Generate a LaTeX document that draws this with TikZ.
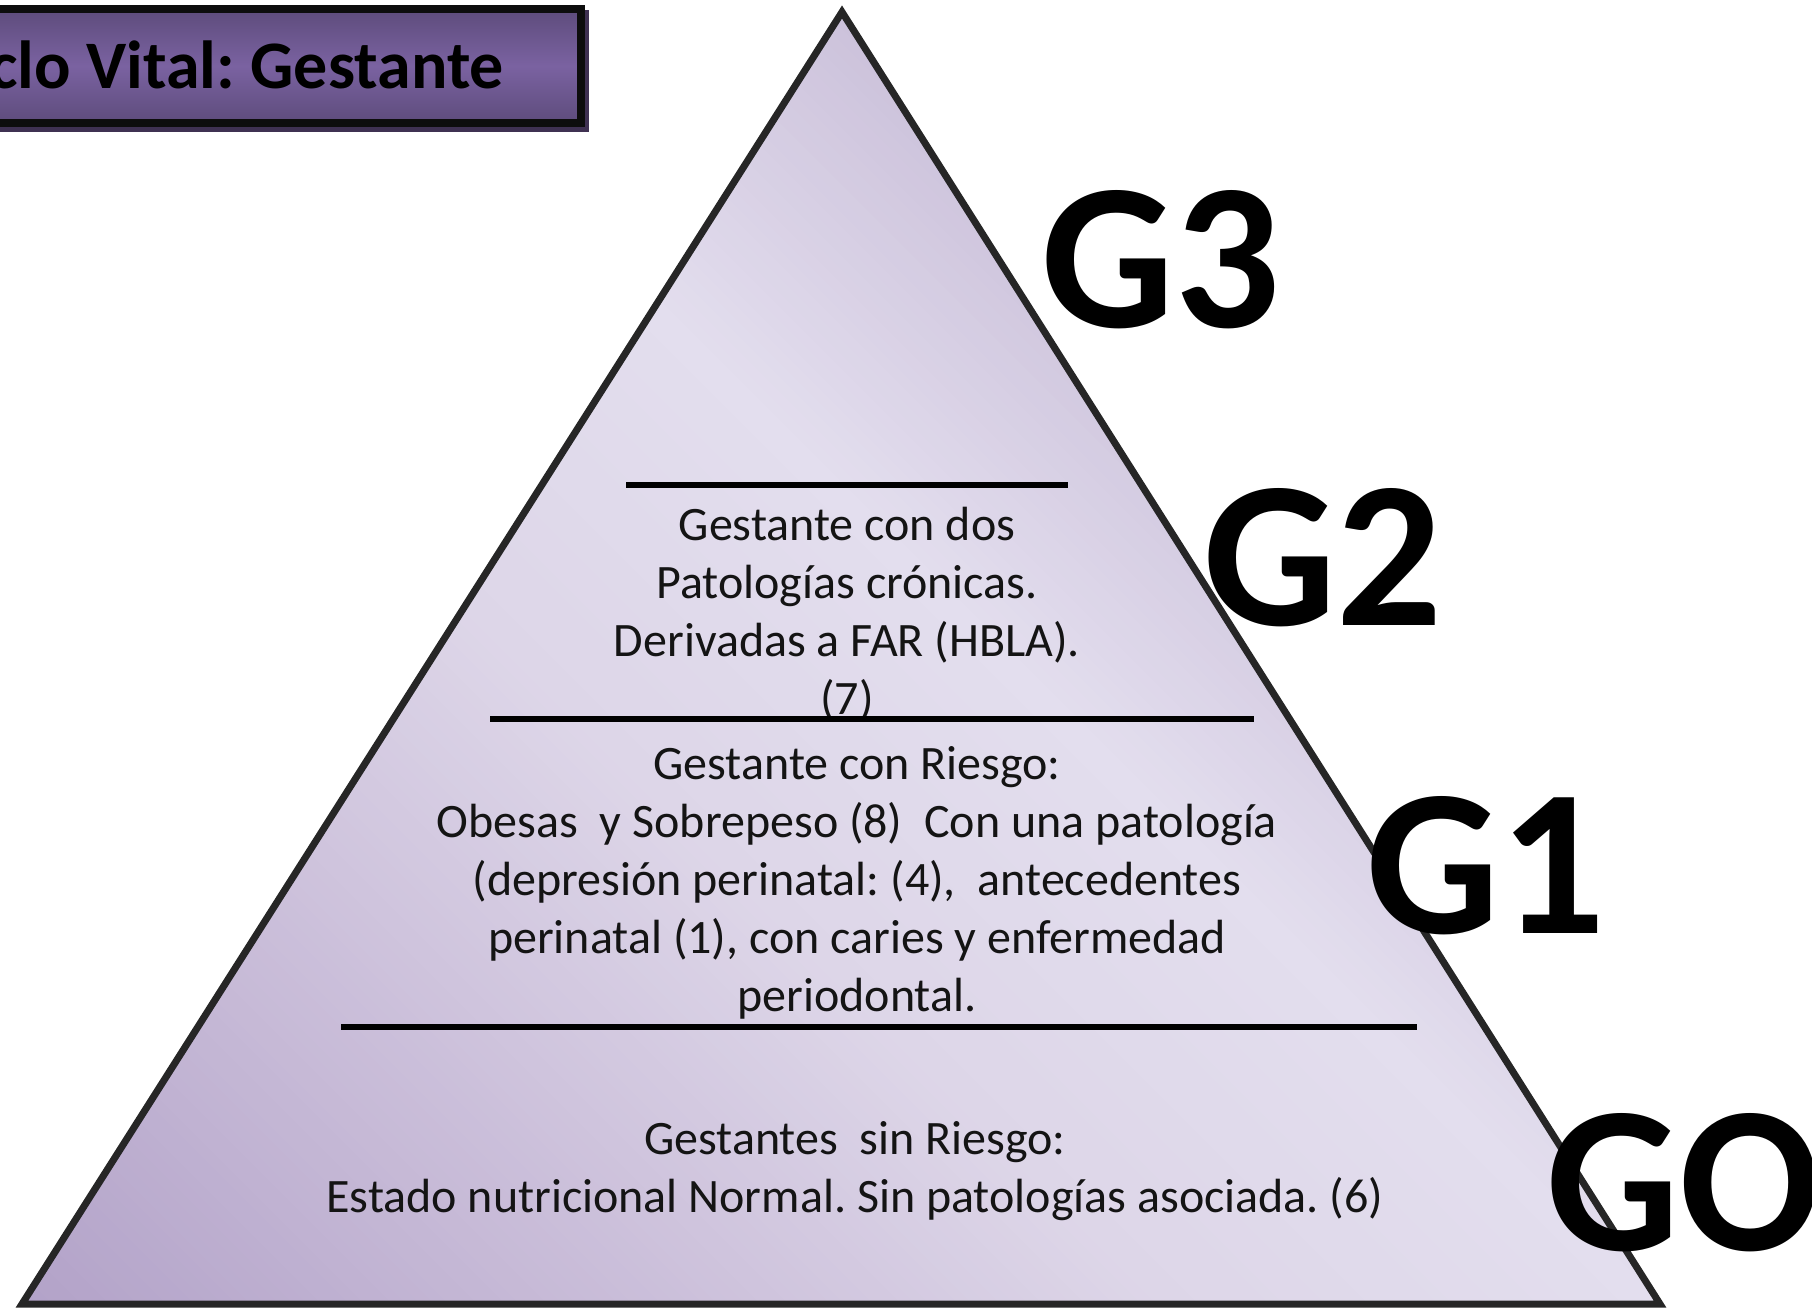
\documentclass[tikz,border=0pt]{standalone}
\usepackage{fontspec}
\setmainfont{Carlito}
\frenchspacing
\definecolor{triA}{HTML}{B2A2C8}
\definecolor{triB}{HTML}{CBBFDA}
\definecolor{triC}{HTML}{DDD6E8}
\definecolor{triD}{HTML}{E3DEEE}
\definecolor{triE}{HTML}{CCC2DB}
\definecolor{edgegray}{HTML}{262626}
\definecolor{boxtop}{HTML}{5E4C7C}
\definecolor{boxmid}{HTML}{7A62A1}
\definecolor{boxshadow}{HTML}{3F3152}
\tikzset{
  body/.style={anchor=base, inner sep=0pt, font=\fontsize{48}{58}\selectfont, text=black!92},
  glabel/.style={anchor=base west, inner sep=0pt, font=\fontsize{209}{250}\selectfont\bfseries, text=black},
  divider/.style={line width=6pt, black},
  titletext/.style={anchor=base east, inner sep=0pt, font=\fontsize{68}{82}\selectfont\bfseries, text=black},
}
\begin{document}
\begin{tikzpicture}[x=1pt,y=-1pt]
\useasboundingbox (0,0) rectangle (1812,1309);
\clip (0,0) rectangle (1812,1309);
% ---------- triangle ----------
\coordinate (apex) at (842,12);
\coordinate (bl) at (22,1304);
\coordinate (br) at (1660,1304);
\begin{scope}
  \clip (apex)--(bl)--(br)--cycle;
  \foreach \i in {0,...,151}{
    \pgfmathsetmacro\pa{-915+10*\i}
    \pgfmathsetmacro\pb{\pa+11}
    \pgfmathsetmacro\pmid{\pa+5}
    \ifdim\pmid pt<-450pt
      \pgfmathsetmacro\tmix{max(0,min(100,((\pmid)+907)/457*100))}
      \colorlet{sc}{triB!\tmix!triA}
    \else\ifdim\pmid pt<-100pt
      \pgfmathsetmacro\tmix{((\pmid)+450)/350*100}
      \colorlet{sc}{triC!\tmix!triB}
    \else\ifdim\pmid pt<250pt
      \pgfmathsetmacro\tmix{((\pmid)+100)/350*100}
      \colorlet{sc}{triD!\tmix!triC}
    \else
      \pgfmathsetmacro\tmix{max(0,min(100,((\pmid)-250)/335*100))}
      \colorlet{sc}{triE!\tmix!triD}
    \fi\fi\fi
    \fill[sc] ({0.7071*((\pa)-100)},{0.7071*(0-(\pa)-100)})
      -- ({0.7071*((\pa)+2300)},{0.7071*(0-(\pa)+2300)})
      -- ({0.7071*((\pb)+2300)},{0.7071*(0-(\pb)+2300)})
      -- ({0.7071*((\pb)-100)},{0.7071*(0-(\pb)-100)}) -- cycle;
  }
\end{scope}
\draw[edgegray, line width=7pt, line join=miter] (apex)--(bl)--(br)--cycle;
% ---------- texts inside ----------
\node[body] (t3a) at (847,540) {Gestante con dos};
\node[body] (t3b) at (847,598) {Patologías crónicas.};
\node[body] (t3c) at (847,656) {Derivadas a FAR (HBLA).};
\node[body] (t3d) at (847,714) {(7)};
\node[body] (t2a) at (857,779) {Gestante con Riesgo:};
\node[body] (t2b) at (857,837) {Obesas\ \ y Sobrepeso (8)\ \ Con una patología};
\node[body] (t2c) at (857,895) {(depresión perinatal: (4),\ \ antecedentes};
\node[body] (t2d) at (857,953) {perinatal (1), con caries y enfermedad};
\node[body] (t2e) at (857,1011) {periodontal.};
\node[body] (t1a) at (855,1154) {Gestantes\ \ sin Riesgo:};
\node[body] (t1b) at (855,1212) {Estado nutricional Normal. Sin patologías asociada. (6)};
% ---------- dividers ----------
\draw[divider] (626,485) -- (1068,485);
\draw[divider] (490,719) -- (1254,719);
\draw[divider] (341,1027) -- (1417,1027);
% ---------- level labels ----------
\node[glabel] (g3) at (1041,327) {G3};
\node[glabel] (g2) at (1203,625) {G2};
\node[glabel] (g1) at (1366,933) {G1};
\node[glabel] (g0) at (1546,1250) {GO};
% ---------- title box ----------
\fill[boxshadow] (-20,10) rectangle (589,132);
\shade[top color=boxtop, bottom color=boxtop, middle color=boxmid] (-20,9) rectangle (581,123);
\draw[line width=8pt, black!95] (-20,9) rectangle (581,123);
\node[titletext] (title) at (504,88) {clo Vital: Gestante};
\end{tikzpicture}
\end{document}
